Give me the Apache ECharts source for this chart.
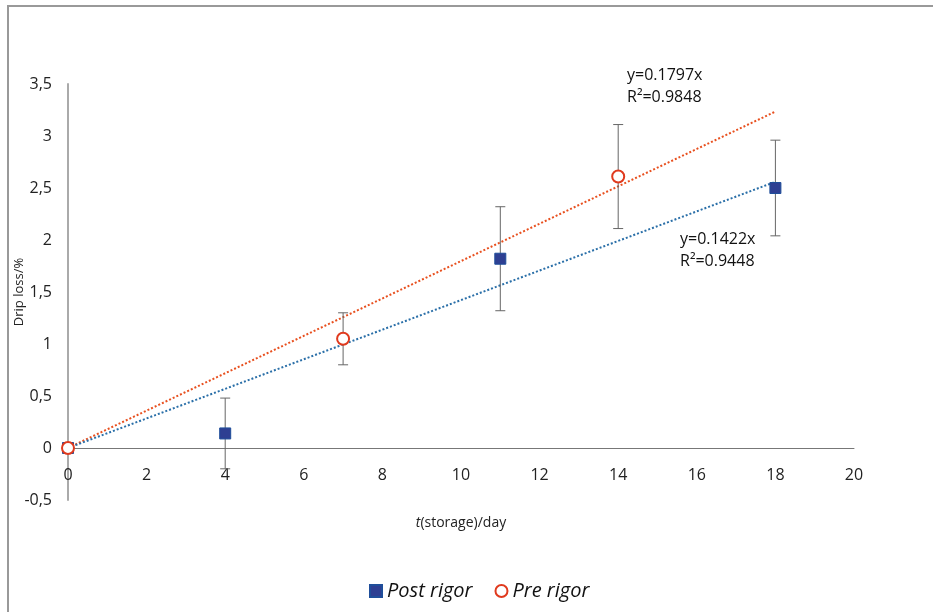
<!DOCTYPE html>
<html>
<head>
<meta charset="utf-8">
<script src="https://cdn.jsdelivr.net/npm/echarts@6/dist/echarts.min.js"></script>
<style>
  html, body { margin: 0; padding: 0; background: #fff; }
  #chart { width: 933px; height: 612px; }
</style>
</head>
<body>
<div id="chart"></div>
<script>
// storage time (days) and drip loss (%)
const postDays = [0, 4, 11, 18]
const postLoss = [0, 0.14, 1.82, 2.5]
const postErr = [0, 0.34, 0.5, 0.46]

const preDays = [0, 7, 14]
const preLoss = [0, 1.05, 2.61]
const preErr = [0, 0.25, 0.5]

// linear trend lines through origin (endpoints at day 18)
const postTrend = [[0, 0], [18, 2.56]]
const preTrend = [[0, 0], [18, 3.235]]

const postEq = ['y=0.1422x', 'R²=0.9448']
const preEq = ['y=0.1797x', 'R²=0.9848']

const font = '"Open Sans", "Liberation Sans", sans-serif'

let chart = echarts.init(document.getElementById('chart'))

function errData(days, loss, err) {
  return days.map((d, i) => [d, loss[i] - err[i], loss[i] + err[i]])
    .filter((row, i) => err[i] > 0)
}

function errorBar(params, api) {
  let x = api.value(0)
  let lo = api.coord([x, api.value(1)])
  let hi = api.coord([x, api.value(2)])
  let w = 5
  let style = { stroke: '#666', lineWidth: 1 }
  return {
    type: 'group',
    children: [
      { type: 'line', shape: { x1: lo[0], y1: lo[1], x2: hi[0], y2: hi[1] }, style },
      { type: 'line', shape: { x1: hi[0] - w, y1: hi[1], x2: hi[0] + w, y2: hi[1] }, style },
      { type: 'line', shape: { x1: lo[0] - w, y1: lo[1], x2: lo[0] + w, y2: lo[1] }, style }
    ]
  }
}

chart.setOption({
  animation: false,
  textStyle: { fontFamily: font },
  grid: { left: 68, right: 79, top: 84, bottom: 112, containLabel: false, outerBoundsMode: 'none' },
  legend: {
    data: [
      { name: 'Post rigor', icon: 'rect' },
      {
        name: 'Pre rigor',
        icon: 'circle',
        itemStyle: { color: '#fff', borderColor: '#E03A1E', borderWidth: 2 }
      }
    ],
    left: 364,
    top: 576,
    itemWidth: 12,
    itemHeight: 12,
    itemGap: 22,
    textStyle: { fontSize: 20, fontStyle: 'italic', color: '#111', fontFamily: font }
  },
  xAxis: {
    type: 'value',
    min: 0,
    max: 20,
    interval: 2,
    name: '{i|t}(storage)/day',
    nameLocation: 'middle',
    nameGap: 16,
    nameTextStyle: {
      fontSize: 14,
      color: '#222',
      rich: { i: { fontStyle: 'italic', fontSize: 14, color: '#222' } }
    },
    axisLine: { onZero: true, lineStyle: { color: '#777', width: 1 } },
    axisTick: { show: false },
    axisLabel: { fontSize: 16, color: '#222', margin: -33 },
    splitLine: { show: false }
  },
  yAxis: {
    type: 'value',
    min: -0.5,
    max: 3.5,
    interval: 0.5,
    name: 'Drip loss/%',
    nameLocation: 'middle',
    nameRotate: 90,
    nameGap: 42,
    nameMoveOverlap: false,
    nameTextStyle: { fontSize: 13, color: '#222' },
    axisLine: { show: true, onZero: false, lineStyle: { color: '#aaa', width: 2 } },
    axisTick: { show: false },
    axisLabel: {
      fontSize: 16,
      color: '#222',
      margin: 16,
      formatter: v => String(v).replace('.', ',')
    },
    splitLine: { show: false }
  },
  graphic: [
    {
      type: 'rect',
      shape: { x: 8, y: 6, width: 940, height: 620 },
      style: { fill: 'none', stroke: '#999', lineWidth: 2 },
      silent: true
    },
    {
      type: 'text',
      left: 627,
      top: 64,
      style: { text: preEq.join('\n'), fontSize: 16, lineHeight: 22, fill: '#111', fontFamily: font }
    },
    {
      type: 'text',
      left: 680,
      top: 228,
      style: { text: postEq.join('\n'), fontSize: 16, lineHeight: 22, fill: '#111', fontFamily: font }
    }
  ],
  series: [
    {
      name: 'Pre trend',
      type: 'line',
      data: preTrend,
      symbol: 'none',
      lineStyle: { color: '#E8501F', width: 2, type: [2, 2] },
      z: 2
    },
    {
      name: 'Post trend',
      type: 'line',
      data: postTrend,
      symbol: 'none',
      lineStyle: { color: '#2A6FA8', width: 2, type: [2, 2] },
      z: 2
    },
    {
      name: 'Post err',
      type: 'custom',
      renderItem: errorBar,
      data: errData(postDays, postLoss, postErr),
      z: 3
    },
    {
      name: 'Pre err',
      type: 'custom',
      renderItem: errorBar,
      data: errData(preDays, preLoss, preErr),
      z: 3
    },
    {
      name: 'Post rigor',
      type: 'scatter',
      symbol: 'rect',
      symbolSize: 11,
      data: postDays.map((d, i) => [d, postLoss[i]]),
      itemStyle: { color: '#2E3F92', borderColor: '#1F4E9A', borderWidth: 1, opacity: 1 },
      z: 5
    },
    {
      name: 'Pre rigor',
      type: 'scatter',
      symbol: 'circle',
      symbolSize: 12,
      data: preDays.map((d, i) => [d, preLoss[i]]),
      itemStyle: { color: '#fff', borderColor: '#E03A1E', borderWidth: 2, opacity: 1 },
      z: 6
    }
  ]
})
</script>
</body>
</html>
